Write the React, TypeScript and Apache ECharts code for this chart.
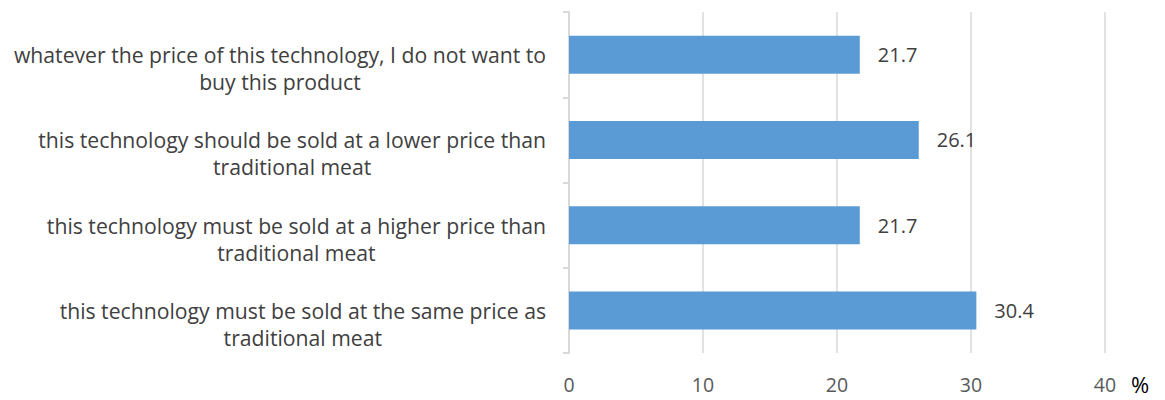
import React, { useEffect, useRef } from 'react';
import * as echarts from 'echarts';

const categories = [
  'this technology must be sold at the same price as\ntraditional meat',
  'this technology must be sold at a higher price than\ntraditional meat',
  'this technology should be sold at a lower price than\ntraditional meat',
  'whatever the price of this technology, I do not want to\nbuy this product',
];
const values = [30.4, 21.7, 26.1, 21.7];
const xMin = 0;
const xMax = 40;
const xInterval = 10;
const unitLabel = '%';

const FONT = '"Open Sans", "Noto Sans", "Liberation Sans", sans-serif';

export default function App() {
  const ref = useRef<HTMLDivElement>(null);
  useEffect(() => {
    document.body.style.margin = '0';
    if (!ref.current) return;
    const chart = echarts.init(ref.current, undefined, { renderer: 'svg' });
    chart.setOption({
      animation: false,
      backgroundColor: '#ffffff',
      grid: { left: 569, right: 60, top: 12, bottom: 47, containLabel: false },
      xAxis: {
        type: 'value',
        min: xMin,
        max: xMax,
        interval: xInterval,
        axisLine: { show: false },
        axisTick: { show: false },
        splitLine: { show: true, lineStyle: { color: '#d9d9d9', width: 1.5 } },
        axisLabel: { color: '#595959', fontSize: 19.5, fontFamily: FONT, margin: 21 },
      },
      yAxis: {
        type: 'category',
        data: categories,
        axisLine: { show: true, lineStyle: { color: '#d9d9d9', width: 2 } },
        axisTick: { show: true, length: 6, alignWithLabel: false, lineStyle: { color: '#d9d9d9', width: 2 } },
        splitLine: { show: false },
        axisLabel: {
          align: 'right',
          verticalAlign: 'middle',
          margin: 23,
          formatter: (v: string) =>
            '{c| }\n' + v.split('\n').map((l) => `{c|${l}}`).join('\n'),
          rich: {
            c: { align: 'center', fontSize: 21.2, lineHeight: 27, color: '#404040', fontFamily: FONT },
          },
        },
      },
      series: [
        {
          type: 'bar',
          data: values,
          barWidth: 38,
          itemStyle: { color: '#5b9bd5' },
          label: {
            show: true,
            position: 'right',
            distance: 18,
            color: '#404040',
            fontSize: 20,
            fontFamily: FONT,
            formatter: (p: any) => p.value.toFixed(1),
          },
        },
      ],
      graphic: [
        {
          type: 'text',
          left: 1131,
          top: 373,
          style: { text: unitLabel, fontSize: 22, fill: '#000000', fontFamily: FONT },
        },
      ],
    });
    return () => chart.dispose();
  }, []);
  return <div ref={ref} style={{ width: 1165, height: 400 }} />;
}
